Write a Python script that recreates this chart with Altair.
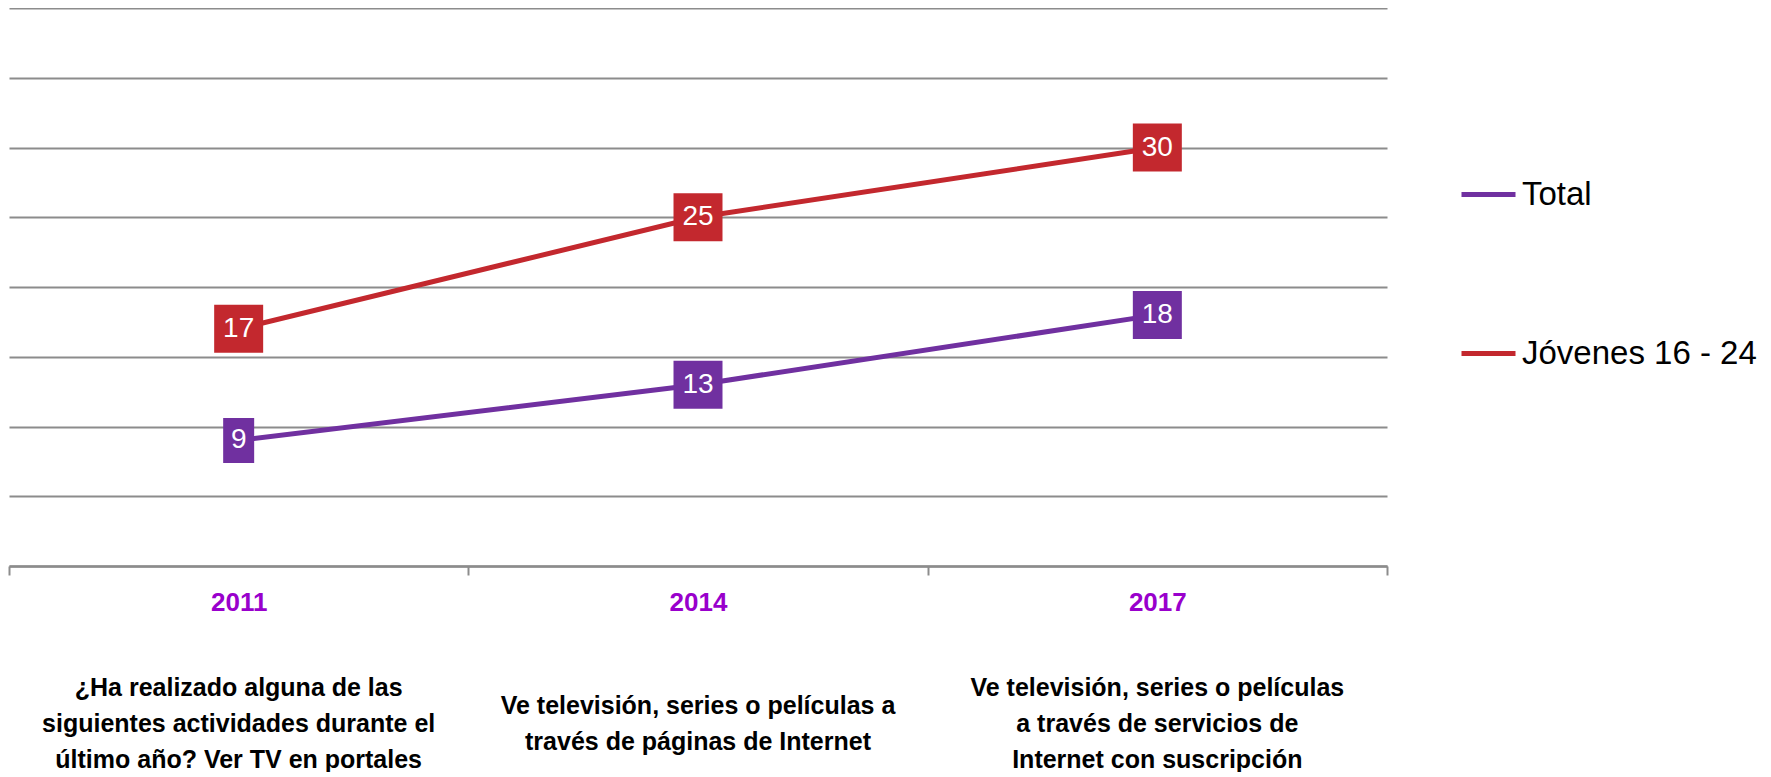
import altair as alt
import pandas as pd

years = ["2011", "2014", "2017"]
descriptions = [
    "¿Ha realizado alguna de las|siguientes actividades durante el|último año? Ver TV en portales",
    "Ve televisión, series o películas a|través de páginas de Internet",
    "Ve televisión, series o películas|a través de servicios de|Internet con suscripción",
]
series = ["Total", "Jóvenes 16 - 24"]
total = [9, 13, 18]
jovenes = [17, 25, 30]
colors = ["#7030A0", "#C3282E"]

rows = []
for name, vals in zip(series, [total, jovenes]):
    for y, d, v in zip(years, descriptions, vals):
        rows.append({"year": y, "desc": d, "serie": name, "value": v})
df = pd.DataFrame(rows)

FONT = "Liberation Sans"
GRID = "#8C8C8C"

band = alt.Scale(type="band", paddingInner=0, paddingOuter=0)
x_year = alt.X(
    "year:N", sort=years, scale=band,
    axis=alt.Axis(
        title=None, orient="bottom", labelAngle=0,
        labelColor="#9900CC", labelFont=FONT, labelFontSize=26, labelFontWeight="bold",
        labelBaseline="middle", labelPadding=27,
        tickBand="extent", tickSize=9, tickColor=GRID, tickWidth=2,
        domainColor=GRID, domainWidth=2.5, grid=False,
    ),
)
y_val = alt.Y(
    "value:Q", scale=alt.Scale(domain=[0, 40], nice=False, zero=True),
    axis=alt.Axis(
        title=None, values=list(range(0, 45, 5)), labels=False, ticks=False,
        domain=False, grid=True, gridColor=GRID, gridWidth=2,
    ),
)
color_scale = alt.Scale(domain=series, range=colors)

base = alt.Chart(df)

lines = base.mark_line(strokeWidth=5).encode(
    x=x_year, y=y_val,
    color=alt.Color(
        "serie:N", scale=color_scale, sort=series,
        legend=alt.Legend(
            title=None, orient="none", legendX=1450, legendY=157,
            symbolType="stroke", symbolSize=2916, symbolStrokeWidth=5,
            labelFont=FONT, labelFontSize=33, labelColor="#000000", labelLimit=500,
            labelOffset=4, rowPadding=112, padding=0,
        ),
    ),
)

path_one = "M-0.674,-0.978H0.674V0.978H-0.674Z"
path_two = "M-1.065,-1.043H1.065V1.043H-1.065Z"

boxes = base.mark_point(filled=True, opacity=1, size=2116, strokeWidth=0).encode(
    x=x_year, y=y_val,
    color=alt.Color("serie:N", scale=color_scale, legend=None),
    shape=alt.condition("datum.value >= 10", alt.value(path_two), alt.value(path_one)),
)

labels = base.mark_text(color="white", font=FONT, fontSize=28, baseline="middle", align="center").encode(
    x=x_year, y=y_val, text="value:Q",
)

main = alt.layer(lines, boxes, labels)

desc_layer = base.mark_point(opacity=0).encode(
    x=alt.X(
        "desc:N", sort=descriptions, scale=band,
        axis=alt.Axis(
            title=None, orient="bottom", labelAngle=0, domain=False, ticks=False, grid=False,
            labelExpr="split(datum.label, '|')", labelLineHeight=36,
            labelFont=FONT, labelFontSize=25, labelFontWeight="bold", labelColor="#000000",
            labelBaseline="middle",
            labelPadding={"condition": {"test": "length(split(datum.label, '|')) == 2", "value": 139}, "value": 121},
            labelLimit=0, labelOverlap=False,
        ),
    ),
    y=y_val,
)

chart = (
    alt.layer(main, desc_layer)
    .resolve_scale(x="independent")
    .properties(width=1378, height=558, padding={"left": 0, "top": 0, "right": 0, "bottom": 0})
    .configure_view(stroke=None)
)

chart.save("out.html", embed_options={"renderer": "svg", "actions": False})
